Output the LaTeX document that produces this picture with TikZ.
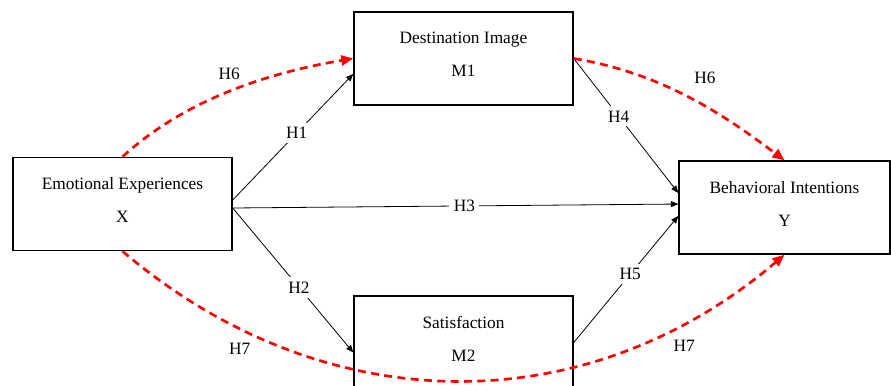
\documentclass[tikz,border=0pt]{standalone}
\usepackage{fontspec}
\setmainfont{Liberation Serif}
\usetikzlibrary{arrows.meta}
\newcommand{\varbox}[5]{
\node[box,minimum width=#4] (#1) at (#2,#3) {#5};}

\begin{document}
\begin{tikzpicture}[x=0.75pt,y=-0.75pt,
  box/.style={draw,line width=1.1pt,minimum height=69.75pt,align=center,
    text depth=6pt,font=\fontsize{13}{24.75}\selectfont},
  blk/.style={line width=0.6pt,-{Triangle[length=5.5pt,width=4.5pt]}},
  dsh/.style={red,line width=2pt,dash pattern=on 6pt off 4pt,
    -{Triangle[length=9pt,width=7.5pt]}},
  hlab/.style={fill=white,font=\fontsize{13}{15}\selectfont},
  clab/.style={text=black,inner sep=1pt,font=\fontsize{13}{15}\selectfont}]
\path[use as bounding box,clip] (0,0) rectangle (891,385);

\varbox{emo}{122.5}{204}{164.25pt}{Emotional Experiences\\X}
\varbox{dest}{463.5}{58.5}{164.25pt}{Destination Image\\M1}
\varbox{beh}{784.5}{207.5}{158.25pt}{Behavioral Intentions\\Y}
\varbox{sat}{463.5}{342.5}{164.25pt}{Satisfaction\\M2}

\draw[blk] ([yshift=3pt]emo.east) -- node[hlab,pos=.53]{H1} ([yshift=-11.6pt]dest.west);
\draw[blk] ([yshift=-3pt]emo.east) -- node[hlab,pos=.55]{H2} ([yshift=-7.5pt]sat.west);
\draw[blk] ([yshift=-3pt]emo.east) -- node[hlab,pos=.52]{H3} ([yshift=2.6pt]beh.west);
\draw[blk] (dest.east) -- node[hlab,pos=.43]{H4} ([yshift=10.9pt]beh.west);
\draw[blk] (sat.east) -- node[hlab,pos=.54]{H5} ([yshift=-6.4pt]beh.west);

% indirect paths
\draw[dsh] (emo.north) .. controls +(60,-55) and +(-90,15) .. node[clab,pos=.5,above=8pt,xshift=2pt]{H6} (dest.west);
\draw[dsh] (dest.east) .. controls +(90,15) and +(-60,-45) .. node[clab,pos=.5,above=9pt,xshift=11pt]{H6} (beh.north);
\draw[dsh] (emo.south) .. controls +(200,170) and +(-200,170) .. node[clab,pos=.18,below=10pt,xshift=3pt]{H7} node[clab,pos=.84,below=11pt]{H7} (beh.south);

\end{tikzpicture}
\end{document}
